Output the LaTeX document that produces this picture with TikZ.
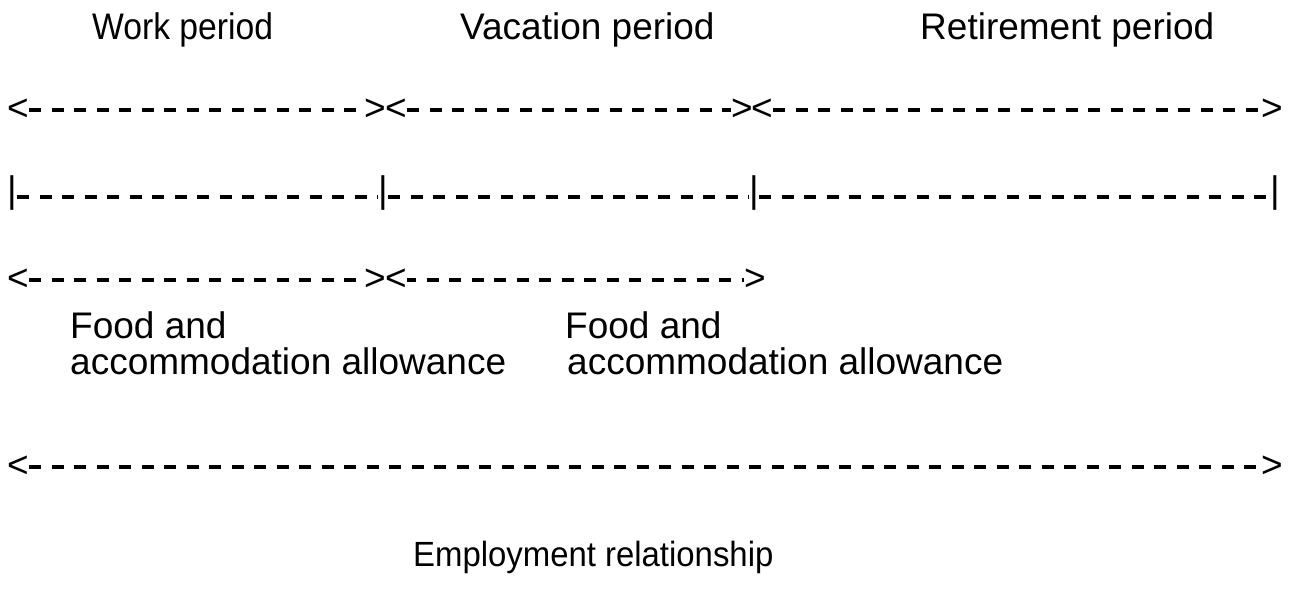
\documentclass[tikz,border=0pt]{standalone}
\usepackage{fontspec}
\setmainfont{Liberation Sans}
\begin{document}
\begin{tikzpicture}[x=1pt,y=-1pt,
  lbl/.style={inner sep=0pt, anchor=base west, font=\fontsize{37}{42}\selectfont},
  tip/.style={inner sep=0pt, font=\fontsize{37}{42}\selectfont},
  dsh/.style={line width=3.4pt, dash pattern=on 12pt off 10.5pt}]
\useasboundingbox (0,0) rectangle (1292,604);
% titles
\node[lbl, xscale=0.91] (work) at (92,40) {Work period};
\node[lbl] (vac)  at (460,40) {Vacation period};
\node[lbl] (ret)  at (920,40) {Retirement period};
% row 1
\node[tip] (a1) at (18,110) {<};
\node[tip] (a2) at (375,110) {>};
\node[tip] (a3) at (396,110) {<};
\node[tip] (a4) at (742,110) {>};
\node[tip] (a5) at (762,110) {<};
\node[tip] (a6) at (1272,110) {>};
\draw[dsh] (a1.east) -- (a2.west);
\draw[dsh] (a3.east) -- (a4.west);
\draw[dsh] (a5.east) -- (a6.west);
% row 2
\node[tip] (b1) at (12,193) {|};
\node[tip] (b2) at (383,193) {|};
\node[tip] (b3) at (754,193) {|};
\node[tip] (b4) at (1275,193) {|};
\draw[dsh] (b1.east |- 0,197) -- (b2.west |- 0,197);
\draw[dsh] (b2.east |- 0,197) -- (b3.west |- 0,197);
\draw[dsh] (b3.east |- 0,197) -- (b4.west |- 0,197);
% row 3
\node[tip] (c1) at (18,280) {<};
\node[tip] (c2) at (375,280) {>};
\node[tip] (c3) at (396,280) {<};
\node[tip] (c4) at (755,280) {>};
\draw[dsh] (c1.east) -- (c2.west);
\draw[dsh, dash phase=3pt] (c3.east) -- (c4.west);
% food labels
\node[lbl] (f1a) at (70,338) {Food and};
\node[lbl] (f1b) at (70,374) {accommodation allowance};
\node[lbl] (f2a) at (565,338) {Food and};
\node[lbl] (f2b) at (567,374) {accommodation allowance};
% row 4
\node[tip] (d1) at (18,467) {<};
\node[tip] (d2) at (1272,467) {>};
\draw[dsh] (d1.east) -- (d2.west);
% bottom
\node[lbl, font=\fontsize{35}{40}\selectfont, xscale=0.94] (emp) at (413,566) {Employment relationship};
\end{tikzpicture}
\end{document}
